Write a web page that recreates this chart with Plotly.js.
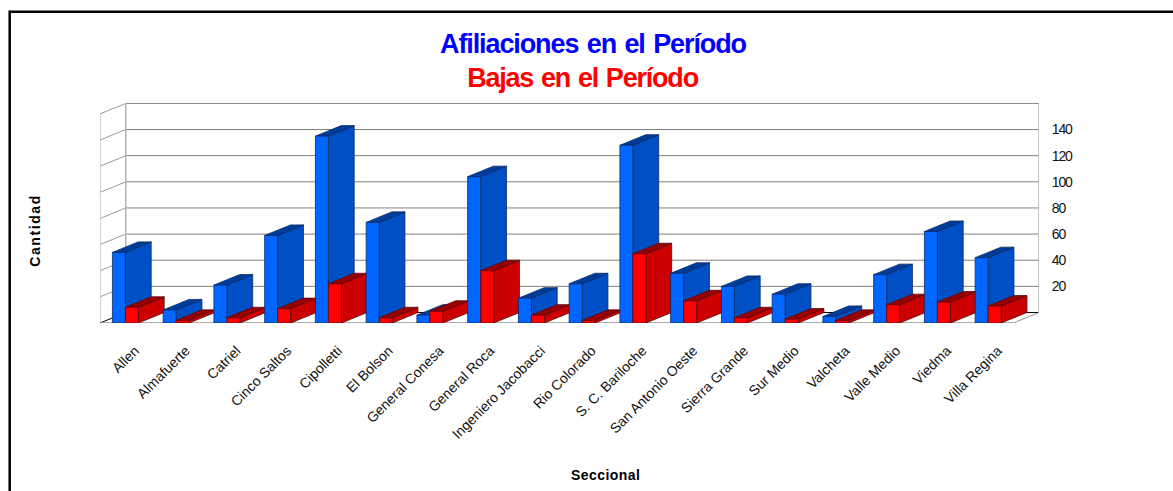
<!DOCTYPE html>
<html>
<head>
<meta charset="utf-8">
<script src="https://cdn.plot.ly/plotly-3.0.1.min.js"></script>
<style>
html,body{margin:0;padding:0;background:#fff;overflow:hidden}
.xtick text{letter-spacing:0px}
.ytick text{letter-spacing:-1.2px}
.gtitle{letter-spacing:-1.1px;word-spacing:2px}
.annotation[data-index="0"] text{letter-spacing:-1.2px;word-spacing:1.5px}
.annotation[data-index="1"] text{letter-spacing:1.6px}
.annotation[data-index="2"] text{letter-spacing:0.45px}
</style>
</head>
<body>
<div id="chart" style="width:1173px;height:491px"></div>
<script>
const categories = ["Allen","Almafuerte","Catriel","Cinco Saltos","Cipolletti","El Bolson","General Conesa","General Roca","Ingeniero Jacobacci","Rio Colorado","S. C. Bariloche","San Antonio Oeste","Sierra Grande","Sur Medio","Valcheta","Valle Medio","Viedma","Villa Regina"];
const afiliaciones = [54,10,29,67,143,77,6,112,19,30,136,38,28,22,5,37,70,50];
const bajas = [12,2,4,11,30,4,9,40,6,2,53,17,4,3,2,14,16,13];
const gridValues = [0,20,40,60,80,100,120,140,160];
const tickValues = [20,40,60,80,100,120,140];

const W = 1173, H = 491;
const L = 100, R = 1039, T = 103.3, B = 323;
const unitX = 50.75, unitY = 1.305;
const dx = 25.8 / unitX, dy = 10.5 / unitY;
const xMax = (R - L) / unitX, yMax = (B - T) / unitY;
const offset = 12.4 / unitX, barW = 13 / unitX;

const traces = [];
function line(x, y, color, width) {
  traces.push({type:'scatter',mode:'lines',x,y,line:{color,width},hoverinfo:'skip',showlegend:false,cliponaxis:false});
}
function poly(x, y, fill, edge) {
  traces.push({type:'scatter',mode:'lines',x,y,fill:'toself',fillcolor:fill,line:{color:edge,width:0.8},hoverinfo:'skip',showlegend:false,cliponaxis:false});
}
// walls and gridlines
gridValues.forEach(v => {
  if (v === 0) return;
  line([dx, xMax], [v+dy, v+dy], '#808080', 1);
  line([0, dx], [v, v+dy], '#9a9a9a', 1);
});
line([0, 0], [0, 160], '#c0c0c0', 1.5);
line([dx, dx], [dy, 160+dy], '#b4b4b4', 1.5);
line([xMax, xMax], [dy, 160+dy], '#b4b4b4', 1.5);
line([dx, xMax], [dy, dy], '#000000', 1);
line([0, dx], [0, dy], '#000000', 1);
line([18, xMax], [0, dy], '#909090', 1);
line([0, 18], [0, 0], '#909090', 1.6);

function bar(x0, v, cols) {
  const x1 = x0 + barW;
  poly([x1, x1+dx, x1+dx, x1, x1], [0, dy, v+dy, v, 0], cols.side, cols.edge);
  poly([x0, x1, x1+dx, x0+dx, x0], [v, v, v+dy, v+dy, v], cols.top, cols.edge);
  poly([x0, x1, x1, x0, x0], [0, 0, v, v, 0], cols.front, cols.edge);
}
const blue = {front:'#0066ff', side:'#004fc4', top:'#003c9c', edge:'#0b2a66'};
const red = {front:'#ff0000', side:'#cc0000', top:'#990000', edge:'#5a0a0a'};
categories.forEach((c, i) => {
  bar(i + offset, afiliaciones[i], blue);
  bar(i + offset + barW, bajas[i], red);
});

const layout = {
  width: W, height: H,
  margin: {l:L, r:W-R, t:T, b:H-B, pad:0},
  paper_bgcolor:'#ffffff', plot_bgcolor:'#ffffff',
  showlegend:false, hovermode:false,
  font:{family:'"Liberation Sans", Arial, sans-serif', color:'#000000', size:12},
  title:{text:'Afiliaciones en el Período', font:{size:27, color:'#0000ff', family:'"Liberation Sans", Arial, sans-serif', weight:700},
         x:593/W, xanchor:'center', y:1-44/H, yanchor:'middle'},
  xaxis:{range:[0,xMax], tickmode:'array', tickvals:categories.map((c,i)=>i+0.69), ticktext:categories,
         tickangle:-45, ticks:'outside', ticklen:13, tickcolor:'rgba(0,0,0,0)', showgrid:false, zeroline:false, showline:false,
         tickfont:{size:14, color:'#111111'}, fixedrange:true, automargin:false},
  yaxis:{range:[0,yMax], side:'right', tickmode:'array', tickvals:tickValues.map(v=>v+dy), ticktext:tickValues.map(String),
         ticks:'outside', ticklen:9, tickcolor:'rgba(0,0,0,0)', showgrid:false, zeroline:false, showline:false,
         tickfont:{size:14, color:'#111111'}, fixedrange:true, automargin:false},
  annotations:[
    {text:'Bajas en el Período', xref:'paper', yref:'paper', x:(582.5-L)/(R-L), y:(B-78)/(B-T), xanchor:'center', yanchor:'middle', showarrow:false,
     font:{size:27, color:'#ff0000', weight:700}},
    {text:'<b>Cantidad</b>', xref:'paper', yref:'paper', x:(35-L)/(R-L), y:(B-230.5)/(B-T), xanchor:'center', yanchor:'middle', showarrow:false, textangle:-90,
     font:{size:14, color:'#000000'}},
    {text:'<b>Seccional</b>', xref:'paper', yref:'paper', x:(605-L)/(R-L), y:(B-475)/(B-T), xanchor:'center', yanchor:'middle', showarrow:false,
     font:{size:14, color:'#000000'}}
  ],
  shapes:[
    {type:'line', xref:'paper', yref:'paper', x0:(9.7-L)/(R-L), x1:(W+5-L)/(R-L), y0:(B-12.2)/(B-T), y1:(B-12.2)/(B-T), line:{color:'#000000', width:2.5}},
    {type:'line', xref:'paper', yref:'paper', x0:(9.7-L)/(R-L), x1:(9.7-L)/(R-L), y0:(B-11)/(B-T), y1:(B-H-5)/(B-T), line:{color:'#000000', width:2.5}}
  ]
};
Plotly.newPlot('chart', traces, layout, {displayModeBar:false, staticPlot:true});
</script>
</body>
</html>
